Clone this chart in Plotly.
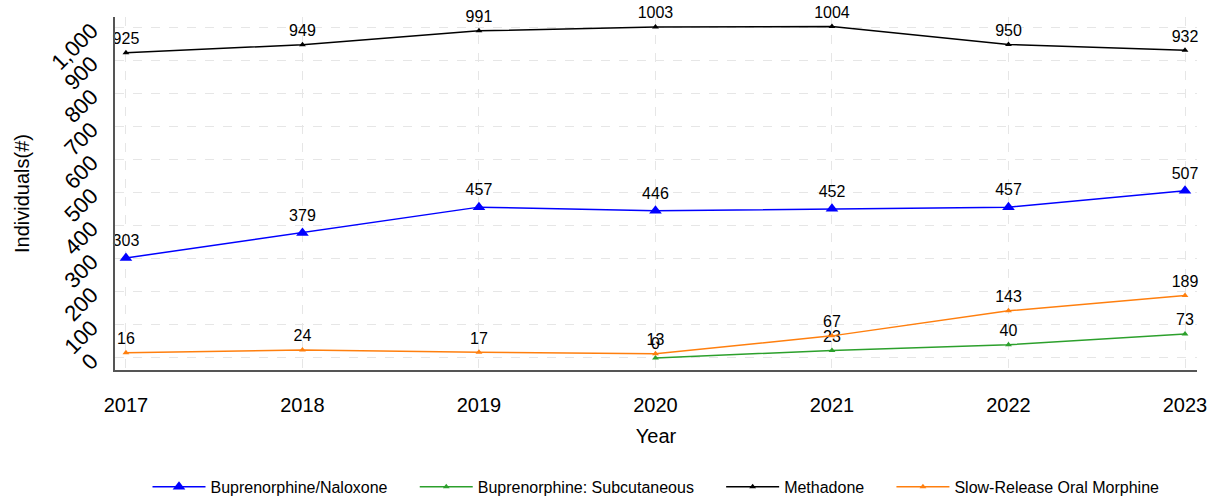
import plotly.graph_objects as go

years = [2017, 2018, 2019, 2020, 2021, 2022, 2023]
bup_nal = [303, 379, 457, 446, 452, 457, 507]
bup_sub_years = [2020, 2021, 2022, 2023]
bup_sub = [0, 23, 40, 73]
methadone = [925, 949, 991, 1003, 1004, 950, 932]
srom = [16, 24, 17, 13, 67, 143, 189]
y_ticks = list(range(0, 1001, 100))

series = [
    ("Buprenorphine/Naloxone", years, bup_nal, "#0000FF", 11),
    ("Buprenorphine: Subcutaneous", bup_sub_years, bup_sub, "#2ca02c", 6),
    ("Methadone", years, methadone, "#000000", 6),
    ("Slow-Release Oral Morphine", years, srom, "#ff7f0e", 6),
]

PAD = "\u00a0" * 5

fig = go.Figure()
for i, (name, xs, ys, color, msize) in enumerate(series):
    label = name + (PAD if i < len(series) - 1 else "")
    fig.add_trace(go.Scatter(
        x=xs, y=ys, name=label, mode="lines+markers+text",
        line=dict(color=color, width=1.5),
        marker=dict(symbol="triangle-up", size=msize, color=color),
        text=[str(v) for v in ys], textposition="top center",
        textfont=dict(family="Liberation Sans, Arial", size=16, color="black"),
        cliponaxis=False,
    ))

fig.update_layout(
    width=1220, height=498,
    margin=dict(l=115, r=23, t=17, b=128, autoexpand=False),
    plot_bgcolor="white", paper_bgcolor="white",
    font=dict(family="Liberation Sans, Arial", color="black"),
    legend=dict(orientation="h", x=0.5, xanchor="center", y=-0.331, yanchor="middle",
                font=dict(size=16), itemwidth=53),
    showlegend=True,
)
fig.update_xaxes(
    range=[2016.938, 2023.068], tickmode="array", tickvals=years,
    ticktext=[str(y) for y in years], tickfont=dict(size=20),
    showgrid=True, gridcolor="#e6e6e6", griddash="dash", gridwidth=1,
    showline=True, linecolor="#555555", linewidth=2, zeroline=False, automargin=False,
    title=dict(text="Year", font=dict(size=20), standoff=14), ticks="", ticklabelstandoff=16,
)
fig.update_yaxes(
    range=[-36.4, 1033], tickmode="array", tickvals=y_ticks,
    ticktext=[f"{v:,}" for v in y_ticks], tickangle=-45, tickfont=dict(size=22),
    showgrid=True, gridcolor="#e6e6e6", griddash="dash", gridwidth=1,
    showline=True, linecolor="#555555", linewidth=2, zeroline=False, automargin=False,
    title=dict(text="Individuals(#)", font=dict(size=20), standoff=11), ticks="",
    ticklabelstandoff=17,
)

fig.write_html("out.html", config={"displayModeBar": False},
               post_script="document.body.style.margin='0';")
